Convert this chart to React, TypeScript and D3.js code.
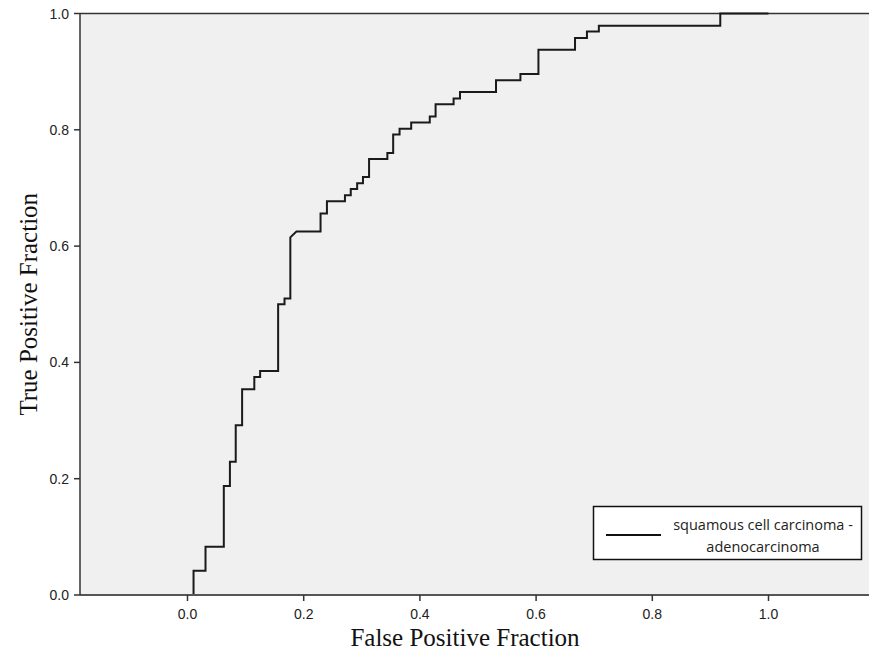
import React from "react";
import * as d3 from "d3";

// ROC curve vertices (False Positive Fraction, True Positive Fraction)
const fpr = [0, 0.0104, 0.0104, 0.031, 0.031, 0.0625, 0.0625, 0.073, 0.073, 0.083, 0.083, 0.094, 0.094, 0.115, 0.115, 0.125, 0.125, 0.156, 0.156, 0.167, 0.167, 0.177, 0.177, 0.1875, 0.229, 0.229, 0.24, 0.24, 0.271, 0.271, 0.281, 0.281, 0.292, 0.292, 0.302, 0.302, 0.3125, 0.3125, 0.344, 0.344, 0.354, 0.354, 0.365, 0.365, 0.385, 0.385, 0.417, 0.417, 0.427, 0.427, 0.458, 0.458, 0.469, 0.469, 0.531, 0.531, 0.573, 0.573, 0.604, 0.604, 0.667, 0.667, 0.6875, 0.6875, 0.708, 0.708, 0.917, 0.917, 1.0];
const tpr = [0, 0, 0.0417, 0.0417, 0.083, 0.083, 0.1875, 0.1875, 0.229, 0.229, 0.292, 0.292, 0.354, 0.354, 0.375, 0.375, 0.385, 0.385, 0.5, 0.5, 0.51, 0.51, 0.615, 0.625, 0.625, 0.656, 0.656, 0.677, 0.677, 0.6875, 0.6875, 0.698, 0.698, 0.708, 0.708, 0.719, 0.719, 0.75, 0.75, 0.76, 0.76, 0.792, 0.792, 0.802, 0.802, 0.8125, 0.8125, 0.823, 0.823, 0.844, 0.844, 0.854, 0.854, 0.865, 0.865, 0.885, 0.885, 0.896, 0.896, 0.9375, 0.9375, 0.958, 0.958, 0.969, 0.969, 0.979, 0.979, 1.0, 1.0];

const xTicks = [0.0, 0.2, 0.4, 0.6, 0.8, 1.0];
const yTicks = [0.0, 0.2, 0.4, 0.6, 0.8, 1.0];
const legendLines = ["squamous cell carcinoma -", "adenocarcinoma"];
const xTitle = "False Positive Fraction";
const yTitle = "True Positive Fraction";

const W = 869;
const H = 652;
const left = 80;
const right = 869;
const top = 13.5;
const bottom = 595;

export default function App() {
  const x = d3.scaleLinear().domain([0, 1]).range([187.5, 768.5]);
  const y = d3.scaleLinear().domain([0, 1]).range([bottom, top]);
  const pts = fpr.map((f, i) => [x(f), y(tpr[i])] as [number, number]);
  const line = d3.line().curve(d3.curveLinear)(pts) || "";
  const fmt = d3.format(".1f");
  const tickFont = "Liberation Sans, Arial, sans-serif";
  const serif = "Liberation Serif, Times New Roman, serif";

  return (
    <svg width={W} height={H} style={{ position: "absolute", left: 0, top: 0, background: "#fff" }}>
      <rect x={left} y={top} width={right - left} height={bottom - top} fill="#f0f0f0" />
      {/* top border */}
      <line x1={left} x2={right} y1={top} y2={top} stroke="#333" strokeWidth={1.5} />
      {/* curve */}
      <path d={line} fill="none" stroke="#1a1a1a" strokeWidth={2} strokeLinejoin="miter" />
      {/* bottom axis */}
      <line x1={left} x2={right} y1={bottom} y2={bottom} stroke="#555" strokeWidth={2} />
      {xTicks.map((t) => (
        <g key={"x" + t}>
          <line x1={x(t)} x2={x(t)} y1={bottom} y2={bottom + 6} stroke="#333" strokeWidth={1.5} />
          <text x={x(t)} y={bottom + 24} textAnchor="middle" fontFamily={tickFont} fontSize={14} fill="#222">
            {fmt(t)}
          </text>
        </g>
      ))}
      {/* left axis */}
      <line x1={left} x2={left} y1={top} y2={bottom} stroke="#333" strokeWidth={1.5} />
      {yTicks.map((t) => (
        <g key={"y" + t}>
          <line x1={left - 6} x2={left} y1={y(t)} y2={y(t)} stroke="#333" strokeWidth={1.5} />
          <text x={left - 11} y={y(t) + 5} textAnchor="end" fontFamily={tickFont} fontSize={14} fill="#222">
            {fmt(t)}
          </text>
        </g>
      ))}
      {/* axis titles */}
      <text x={465} y={646} textAnchor="middle" fontFamily={serif} fontSize={25} fill="#111">
        {xTitle}
      </text>
      <text
        transform={`translate(${37},${(top + bottom) / 2}) rotate(-90)`}
        textAnchor="middle"
        fontFamily={serif}
        fontSize={25}
        fill="#111"
      >
        {yTitle}
      </text>
      {/* legend */}
      <rect x={593.5} y={506.5} width={268} height={53} fill="#fff" stroke="#111" strokeWidth={1.5} />
      <line x1={606} x2={661} y1={535} y2={535} stroke="#111" strokeWidth={2} />
      {legendLines.map((s, i) => (
        <text key={s} x={763} y={530 + i * 21.5} textAnchor="middle" fontFamily="Open Sans, sans-serif" fontSize={14.5} fill="#222">
          {s}
        </text>
      ))}
    </svg>
  );
}
